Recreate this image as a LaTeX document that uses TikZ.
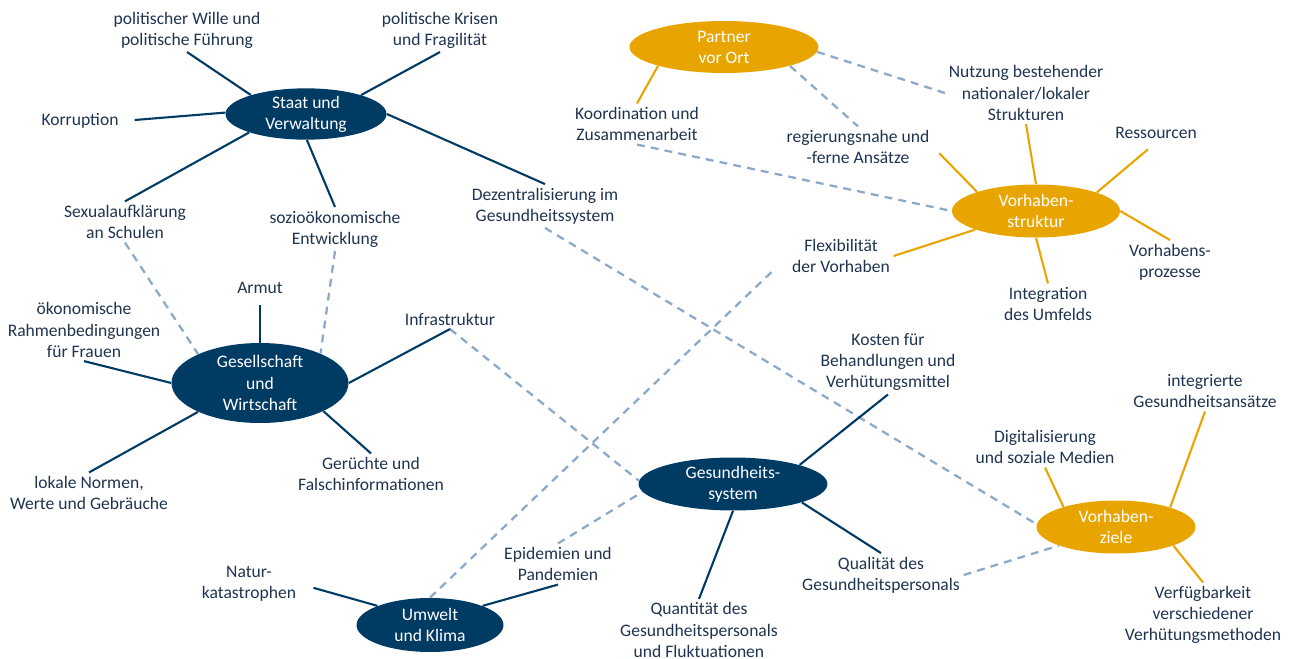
\documentclass[tikz,border=0pt]{standalone}
\usepackage{fontspec}
\setmainfont{Carlito}
\usetikzlibrary{shapes.geometric}

\definecolor{navyc}{HTML}{003B64}
\definecolor{goldc}{HTML}{E8A500}
\definecolor{dashc}{HTML}{8DA9C9}
\definecolor{txtc}{HTML}{1F3450}

\begin{document}
\begin{tikzpicture}[x=0.02cm, y=-0.02cm, font=\fontsize{10}{12}\selectfont,
    lbl/.style={align=center, text=txtc, inner sep=2pt},
    hub/.style={ellipse, fill=navyc, text=white, align=center, inner sep=0pt},
    ghub/.style={hub, fill=goldc},
    nline/.style={draw=navyc, line width=1.2pt},
    gline/.style={draw=goldc, line width=1.2pt},
    dline/.style={draw=dashc, line width=1.3pt, dash pattern=on 4.5pt off 3.5pt}]
  \useasboundingbox (0,0) rectangle (1291,659);

  % hubs
  \node[hub, minimum width=3.22cm, minimum height=1.0cm] (sv) at (306,114) {Staat und\\Verwaltung};
  \node[hub, minimum width=3.54cm, minimum height=1.6cm] (gw) at (260,383) {Gesellschaft\\und\\Wirtschaft};
  \node[hub, minimum width=2.94cm, minimum height=1.08cm] (uk) at (430,625) {Umwelt\\und Klima};
  \node[hub, minimum width=3.78cm, minimum height=1.06cm] (gs) at (733,484) {Gesundheits-\\system};
  \node[ghub, minimum width=3.78cm, minimum height=1.04cm] (pvo) at (724,47) {Partner\\vor Ort};
  \node[ghub, minimum width=3.36cm, minimum height=1.06cm] (vs) at (1036,211) {Vorhaben-\\struktur};
  \node[ghub, minimum width=3.18cm, minimum height=1.06cm] (vz) at (1116,527) {Vorhaben-\\ziele};

  % labels
  \node[lbl] (wille) at (187,30) {politischer Wille und\\politische Führung};
  \node[lbl] (krisen) at (440,30) {politische Krisen\\und Fragilität};
  \node[lbl] (korr) at (80,121) {Korruption};
  \node[lbl] (sexual) at (125,222) {Sexualaufklärung\\an Schulen};
  \node[lbl] (sozio) at (335,229) {sozioökonomische\\Entwicklung};
  \node[lbl] (dezent) at (545,206) {Dezentralisierung im\\Gesundheitssystem};
  \node[lbl] (koord) at (637,124) {Koordination und\\Zusammenarbeit};
  \node[lbl] (regnah) at (858,147) {regierungsnahe und\\-ferne Ansätze};
  \node[lbl] (nutzung) at (1026,93) {Nutzung bestehender\\nationaler/lokaler\\Strukturen};
  \node[lbl] (ress) at (1156,133) {Ressourcen};
  \node[lbl] (prozess) at (1170,262) {Vorhabens-\\prozesse};
  \node[lbl] (integ) at (1048,304) {Integration\\des Umfelds};
  \node[lbl] (flex) at (841,256) {Flexibilität\\der Vorhaben};
  \node[lbl] (armut) at (260,288) {Armut};
  \node[lbl] (oeko) at (84,330) {ökonomische\\Rahmenbedingungen\\für Frauen};
  \node[lbl] (infra) at (450,319) {Infrastruktur};
  \node[lbl] (normen) at (89,493) {lokale Normen,\\Werte und Gebräuche};
  \node[lbl] (geruecht) at (371,474) {Gerüchte und\\Falschinformationen};
  \node[lbl] (natur) at (249,584) {Natur-\\katastrophen};
  \node[lbl] (epid) at (558,564) {Epidemien und\\Pandemien};
  \node[lbl] (quant) at (699,630) {Quantität des\\Gesundheitspersonals\\und Fluktuationen};
  \node[lbl] (qual) at (881,575) {Qualität des\\Gesundheitspersonals};
  \node[lbl] (kosten) at (888,362) {Kosten für\\Behandlungen und\\Verhütungsmittel};
  \node[lbl] (digital) at (1045,447) {Digitalisierung\\und soziale Medien};
  \node[lbl] (integr) at (1205,391) {integrierte\\Gesundheitsansätze};
  \node[lbl] (verfueg) at (1203,615) {Verfügbarkeit\\verschiedener\\Verhütungsmethoden};

  % dashed cross links
  \draw[dline] (sexual.south) -- (gw.155);
  \draw[dline] (sozio.south) -- (gw.26);
  \draw[dline] (infra.south) -- (gs.178);
  \draw[dline] (epid.north) -- (gs.185);
  \draw[dline, shorten >=11pt] (uk.90) -- (flex.west);
  \draw[dline] (dezent.south) -- (vz.178);
  \draw[dline] (qual.east) -- (vz.198);
  \draw[dline] (koord.south) -- (vs.180);
  \draw[dline] (pvo.-3) -- (nutzung.west);
  \draw[dline] (pvo.344) -- (regnah.north);

  % Staat und Verwaltung
  \draw[nline] (sv.161) -- (wille.south);
  \draw[nline] (sv.19) -- (krisen.south);
  \draw[nline, shorten >=7pt] (sv.179) -- (korr.east);
  \draw[nline] (sv.198) -- (sexual.north);
  \draw[nline] (sv.272) -- (sozio.north);
  \draw[nline] (sv.0) -- (dezent.north);
  % Gesellschaft und Wirtschaft
  \draw[nline, shorten >=4pt] (gw.90) -- (armut.south);
  \draw[nline] (gw.180) -- (oeko.south);
  \draw[nline] (gw.205) -- (normen.north);
  \draw[nline] (gw.336) -- (geruecht.north);
  \draw[nline] (gw.0) -- (infra.south);
  % Umwelt und Klima
  \draw[nline, shorten >=8pt] (uk.160) -- (natur.east);
  \draw[nline] (uk.20) -- (epid.south);
  % Gesundheitssystem
  \draw[nline] (gs.16) -- (kosten.south);
  \draw[nline] (gs.345) -- (qual.north);
  \draw[nline] (gs.270) -- (quant.north);
  % gold hubs
  \draw[gline] (pvo.196) -- (koord.north);
  \draw[gline] (vs.90) -- (nutzung.south);
  \draw[gline, shorten >=5pt] (vs.162) -- (regnah.east);
  \draw[gline, shorten >=6pt] (vs.17) -- (ress.south);
  \draw[gline] (vs.0) -- (prozess.north);
  \draw[gline] (vs.270) -- (integ.north);
  \draw[gline] (vs.197) -- (flex.east);
  \draw[gline] (vz.159) -- (digital.south);
  \draw[gline] (vz.20) -- (integr.south);
  \draw[gline] (vz.342) -- (verfueg.north);
\end{tikzpicture}
\end{document}
